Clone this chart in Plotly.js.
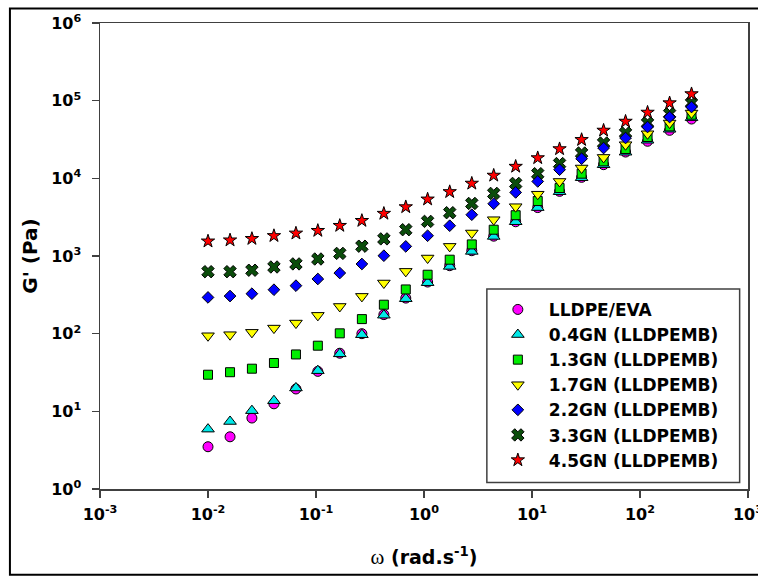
<!DOCTYPE html>
<html>
<head>
<meta charset="utf-8">
<script src="https://cdn.plot.ly/plotly-3.0.1.min.js"></script>
<style>
  html, body { margin: 0; padding: 0; background: #ffffff; }
  #chart { width: 758px; height: 577px; }
</style>
</head>
<body>
<div id="chart"></div>
<script>
// Angular frequency sweep (rad/s)
const omega = [0.01, 0.016, 0.0255, 0.0408, 0.0652, 0.104, 0.166, 0.266, 0.425, 0.678,
               1.08, 1.73, 2.77, 4.42, 7.06, 11.3, 18.0, 28.8, 46.0, 73.5, 117.5, 188, 300];

// Storage modulus G' (Pa) for each blend
const lldpeEva = [3.5, 4.7, 8.2, 12.5, 19.4, 32.7, 56, 100, 176, 287, 462, 750, 1170, 1800,
                  2760, 4200, 6800, 10300, 15000, 21800, 30000, 41500, 58000];
const gn04 = [5.9, 7.4, 10.2, 13.7, 20, 33.4, 55, 97, 173, 282, 453, 735, 1146, 1787,
              2762, 4200, 6730, 10190, 14970, 21700, 30960, 42900, 60400];
const gn13 = [29.6, 31.9, 35.4, 41.9, 54, 70, 101, 154, 236, 371, 574, 896, 1410, 2180,
              3350, 5100, 7500, 11480, 16520, 23870, 34050, 46600, 65900];
const gn17 = [94, 97, 104, 118, 137, 172, 224, 302, 449, 634, 942, 1330, 1977, 2933,
              4313, 6250, 9120, 13580, 18590, 27100, 37500, 51530, 69300];
const gn22 = [293, 305, 327, 368, 415, 506, 604, 789, 1009, 1330, 1824, 2455, 3400, 4710,
              6590, 9120, 12910, 17900, 24560, 33050, 45800, 61550, 82800];
const gn33 = [628, 628, 656, 722, 791, 915, 1080, 1337, 1660, 2180, 2790, 3610, 4750, 6400,
              8600, 11480, 15500, 21180, 28500, 38350, 51530, 67900, 93300];
const gn45 = [1550, 1600, 1670, 1820, 1960, 2120, 2460, 2850, 3520, 4280, 5380, 6700, 8600,
              10900, 14200, 18300, 23900, 31400, 41400, 54000, 70600, 93300, 122000];

const seriesNames = ['LLDPE/EVA', '0.4GN (LLDPEMB)', '1.3GN (LLDPEMB)', '1.7GN (LLDPEMB)',
                     '2.2GN (LLDPEMB)', '3.3GN (LLDPEMB)', '4.5GN (LLDPEMB)'];

// Axis tick labels
const xTickVals = [0.001, 0.01, 0.1, 1, 10, 100, 1000];
const xTickText = ['10<sup>-3</sup>', '10<sup>-2</sup>', '10<sup>-1</sup>', '10<sup>0</sup>',
                   '10<sup>1</sup>', '10<sup>2</sup>', '10<sup>3</sup>'];
const yTickVals = [1, 10, 100, 1000, 10000, 100000, 1000000];
const yTickText = ['10<sup>0</sup>', '10<sup>1</sup>', '10<sup>2</sup>', '10<sup>3</sup>',
                   '10<sup>4</sup>', '10<sup>5</sup>', '10<sup>6</sup>'];

const FONT = 'DejaVu Sans, Arial, sans-serif';

function series(name, y, symbol, color, size, rank) {
  return {
    x: omega, y: y, name: name, type: 'scatter', mode: 'markers',
    legendrank: rank,
    marker: { symbol: symbol, color: color, size: size,
              line: { color: '#000000', width: 1 } }
  };
}

// Drawing order puts the crosses beneath the diamonds, stars on top
const traces = [
  series(seriesNames[0], lldpeEva, 'circle', '#ff00ff', 10, 1),
  series(seriesNames[1], gn04, 'triangle-up', '#00e8e8', 11, 2),
  series(seriesNames[2], gn13, 'square', '#00ee00', 9, 3),
  series(seriesNames[3], gn17, 'triangle-down', '#ffff00', 11, 4),
  series(seriesNames[5], gn33, 'x', '#0b4d0b', 11, 6),
  series(seriesNames[4], gn22, 'diamond', '#0000ff', 9, 5),
  series(seriesNames[6], gn45, 'star', '#ff0000', 10, 7)
];

const axisCommon = {
  type: 'log',
  showgrid: false,
  zeroline: false,
  showline: true,
  linecolor: '#404040',
  linewidth: 1.5,
  mirror: true,
  ticks: 'outside',
  ticklen: 7,
  tickwidth: 1.5,
  tickcolor: '#404040',
  ticklabeloverflow: 'allow',
  tickfont: { family: FONT, size: 16, color: '#000000', weight: 700 }
};

const layout = {
  width: 758,
  height: 577,
  paper_bgcolor: '#ffffff',
  plot_bgcolor: '#ffffff',
  margin: { l: 100, r: 10, t: 23, b: 88 },
  showlegend: true,
  xaxis: Object.assign({}, axisCommon, {
    range: [-3, 3],
    tickvals: xTickVals,
    ticktext: xTickText,
    ticklabelstandoff: 3,
    title: {
      text: '<span style="font-family:Liberation Serif;font-weight:normal;font-size:21px">\u03c9</span> (rad.s<sup>-1</sup>)',
      font: { family: FONT, size: 19, color: '#000000', weight: 700 },
      standoff: 28
    }
  }),
  yaxis: Object.assign({}, axisCommon, {
    range: [0, 6],
    tickvals: yTickVals,
    ticktext: yTickText,
    ticklabelstandoff: 7,
    title: {
      text: "G' (Pa)",
      font: { family: FONT, size: 20, color: '#000000', weight: 700 },
      standoff: 8
    }
  }),
  legend: {
    x: 0.597, y: 0.423, xanchor: 'left', yanchor: 'top',
    bgcolor: 'rgba(255,255,255,0)',
    borderwidth: 0,
    itemwidth: 52,
    font: { family: FONT, size: 17, color: '#000000', weight: 700 }
  },
  shapes: [
    // legend frame
    {
      type: 'rect', xref: 'paper', yref: 'paper',
      x0: 0.597, x1: 0.9871, y0: 0.0141, y1: 0.4292,
      line: { color: '#404040', width: 1.5 }, fillcolor: '#ffffff', layer: 'above'
    },
    // outer figure frame
    {
      type: 'rect', xref: 'paper', yref: 'paper',
      x0: -0.139, x1: 1.06, y0: -0.184, y1: 1.031,
      line: { color: '#000000', width: 2 }, fillcolor: 'rgba(0,0,0,0)', layer: 'above'
    }
  ]
};

Plotly.newPlot('chart', traces, layout, { displayModeBar: false, staticPlot: true });
</script>
</body>
</html>
